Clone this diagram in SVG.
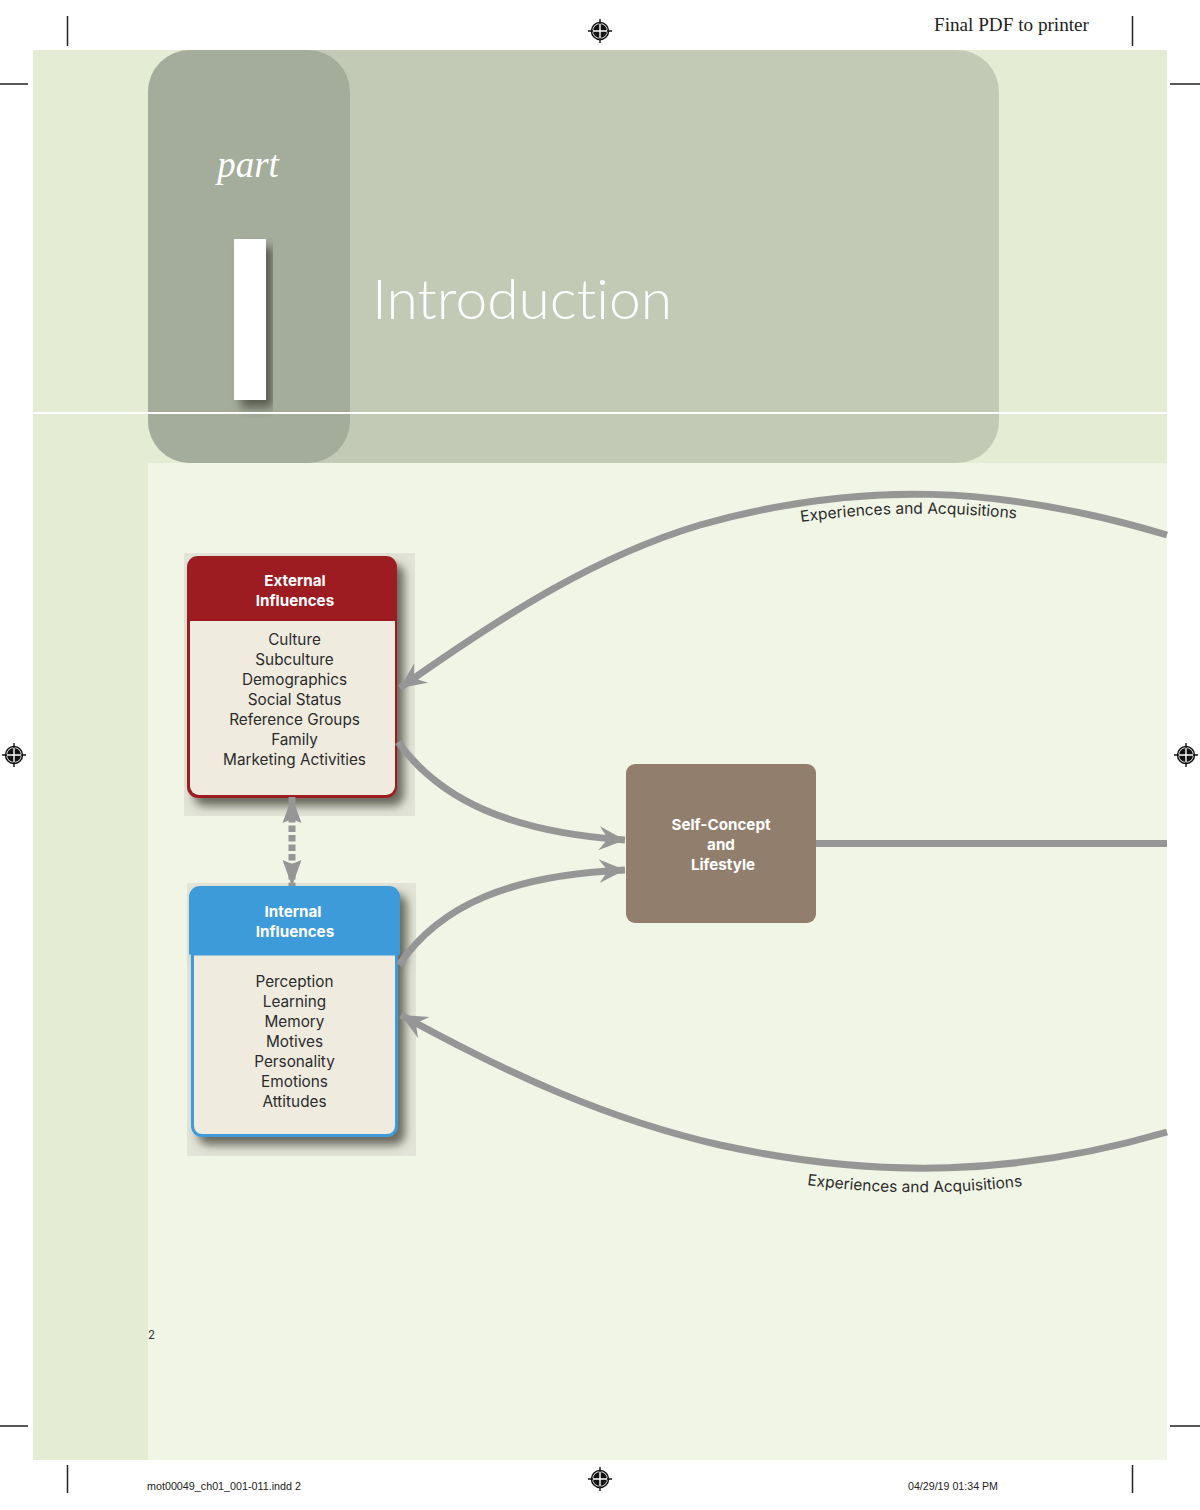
<svg xmlns="http://www.w3.org/2000/svg" xmlns:xlink="http://www.w3.org/1999/xlink" width="1200" height="1510" viewBox="0 0 1200 1510">
<style>
.box{font-family:Inter,"Liberation Sans",sans-serif;font-size:15.300px;fill:#2b2b2b;text-anchor:middle}
.head{font-family:Inter,"Liberation Sans",sans-serif;font-size:15.200px;font-weight:700;fill:#fff;text-anchor:middle}
.lab{font-family:Inter,"Liberation Sans",sans-serif;font-size:15.500px;fill:#2b2b2b}
.foot{font-family:"Liberation Sans",sans-serif;font-size:10px;fill:#222}
.conn{fill:none;stroke:#969696;stroke-width:7}
.trim{stroke:#222;stroke-width:1.5}
.back{fill:#e2e4d7}
.body{fill:#efebdf}
</style>
<defs>
<filter id="sh" x="-20%" y="-20%" width="140%" height="140%"><feDropShadow dx="7" dy="8" stdDeviation="5" flood-color="#4a4a40" flood-opacity=".8"/></filter>
<marker id="ah" markerUnits="userSpaceOnUse" markerWidth="30" markerHeight="30" refX="26" refY="13" orient="auto" viewBox="0 0 30 26"><path d="M26 13 L0 1 L9 13 L0 25 Z" fill="#969696"/></marker>
<marker id="ad" markerUnits="userSpaceOnUse" markerWidth="30" markerHeight="30" refX="26" refY="13" orient="auto-start-reverse" viewBox="0 0 30 26"><path d="M26 13 L0 3.500 L4 13 L0 22.500 Z" fill="#969696"/></marker>
<g id="reg"><circle r="8.500" fill="#fff" stroke="#111" stroke-width="1.500"/><path d="M0-7A7 7 0 0 1 7 0H0ZM0 7A7 7 0 0 1-7 0H0Z" fill="#111"/><path d="M-7 0A7 7 0 0 1 0-7V0ZM7 0A7 7 0 0 1 0 7V0Z" fill="#111"/><path d="M-12 0H12M0-12V12" stroke="#111" stroke-width="1.400"/><path d="M-7 0H7M0-7V7" stroke="#fff" stroke-width="1.400"/></g>
<path id="topLabel" d="M801 522 Q908 507 1020 519"/>
<path id="botLabel" d="M807 1185 Q915 1199 1022 1186"/>
</defs>
<rect width="1200" height="1510" fill="#fff"/>
<rect x="33" y="50" width="1134" height="1410" fill="#e5ecd4"/>
<rect x="148" y="463" width="1019" height="997" fill="#f1f5e6"/>
<rect x="148" y="50" width="851" height="413" rx="42" fill="#c2cab5"/>
<rect x="148" y="50" width="202" height="413" rx="42" fill="#a4ac9b"/>
<rect x="234" y="239" width="32" height="161" fill="#fff" filter="url(#sh)"/>
<rect x="33" y="412" width="1134" height="2" fill="#fff"/>
<text x="248" y="177" font-family="Liberation Serif,serif" font-style="italic" font-size="37" fill="#fff" text-anchor="middle">part</text>
<text x="372" y="319" font-family="Lato,Inter,sans-serif" font-weight="300" font-size="56" fill="#fff" textLength="300" lengthAdjust="spacingAndGlyphs" style="font-variant-ligatures:none">Introduction</text>
<text x="151.500" y="1339" font-family="Inter,sans-serif" font-size="11.500" fill="#333" text-anchor="middle">2</text>

<g id="marks">
<path class="trim" d="M67.500 16V46M1132.500 16V46M67.500 1465V1493M1132.500 1465V1493M0 84H28M1170 84H1200M0 1426H28M1170 1426H1200"/>
<use xlink:href="#reg" href="#reg" x="600" y="31"/><use xlink:href="#reg" href="#reg" x="14" y="755"/><use xlink:href="#reg" href="#reg" x="1186" y="755"/><use xlink:href="#reg" href="#reg" x="600" y="1479"/>
<text x="934" y="31" font-family="Liberation Serif,serif" font-size="19" fill="#222" textLength="155" lengthAdjust="spacingAndGlyphs">Final PDF to printer</text>
<text class="foot" x="147" y="1490" textLength="154" lengthAdjust="spacingAndGlyphs">mot00049_ch01_001-011.indd   2</text>
<text class="foot" x="908" y="1490" textLength="90" lengthAdjust="spacingAndGlyphs">04/29/19  01:34 PM</text>
</g>

<g id="external-influences">
<rect class="back" x="184" y="553" width="231" height="263"/>
<rect x="187" y="556" width="210" height="242" rx="11" fill="#9c1c20" filter="url(#sh)"/>
<path class="body" d="M190 621H395V786a9 9 0 0 1-9 9H199a9 9 0 0 1-9-9Z"/>
<text class="head" x="295" y="586">External</text><text class="head" x="295" y="606">Influences</text>
<text class="box" x="294.500" y="645">Culture</text><text class="box" x="294.500" y="665">Subculture</text><text class="box" x="294.500" y="685">Demographics</text><text class="box" x="294.500" y="705">Social Status</text><text class="box" x="294.500" y="725">Reference Groups</text><text class="box" x="294.500" y="745">Family</text><text class="box" x="294.500" y="765">Marketing Activities</text>
</g>

<g id="internal-influences">
<rect class="back" x="187" y="883" width="229" height="273"/>
<g filter="url(#sh)">
<path d="M189 954V897a11 11 0 0 1 11-11H389a11 11 0 0 1 11 11V954Z" fill="#3d9bd9"/>
<path class="body" stroke="#3d9bd9" stroke-width="3" d="M192.500 954H396.500V1126a9.500 9.500 0 0 1-9.500 9.500H202a9.500 9.500 0 0 1-9.500-9.500Z"/>
<path d="M189 954H400" stroke="#3d9bd9" stroke-width="1"/>
</g>
<text class="head" x="293" y="917">Internal</text><text class="head" x="295" y="937">Influences</text>
<text class="box" x="294.500" y="987">Perception</text><text class="box" x="294.500" y="1007">Learning</text><text class="box" x="294.500" y="1027">Memory</text><text class="box" x="294.500" y="1047">Motives</text><text class="box" x="294.500" y="1067">Personality</text><text class="box" x="294.500" y="1087">Emotions</text><text class="box" x="294.500" y="1107">Attitudes</text>
</g>

<g id="self-concept">
<rect x="626" y="764" width="190" height="159" rx="9" fill="#927e6d"/>
<text class="head" x="721" y="830">Self-Concept</text><text class="head" x="721" y="850">and</text><text class="head" x="723" y="870">Lifestyle</text>
</g>

<g id="connectors">
<path class="conn" d="M1167 535C1000 485 860 480 700 525C600 555 510 610 400 688" marker-end="url(#ah)"/>
<path class="conn" d="M1167 1132C1020 1175 880 1180 720 1145C610 1120 510 1075 401 1015" marker-end="url(#ah)"/>
<path class="conn" d="M816 843.500H1167"/>
<path class="conn" d="M398 742C440 800 510 832 625 840" marker-end="url(#ah)"/>
<path class="conn" d="M399 965C440 905 510 875 625 870" marker-end="url(#ah)"/>
<path class="conn" d="M292 797V886" stroke-dasharray="6.500 3" marker-start="url(#ad)" marker-end="url(#ad)"/>
<text class="lab"><textPath xlink:href="#topLabel" href="#topLabel">Experiences and Acquisitions</textPath></text>
<text class="lab"><textPath xlink:href="#botLabel" href="#botLabel">Experiences and Acquisitions</textPath></text>
</g>
</svg>
